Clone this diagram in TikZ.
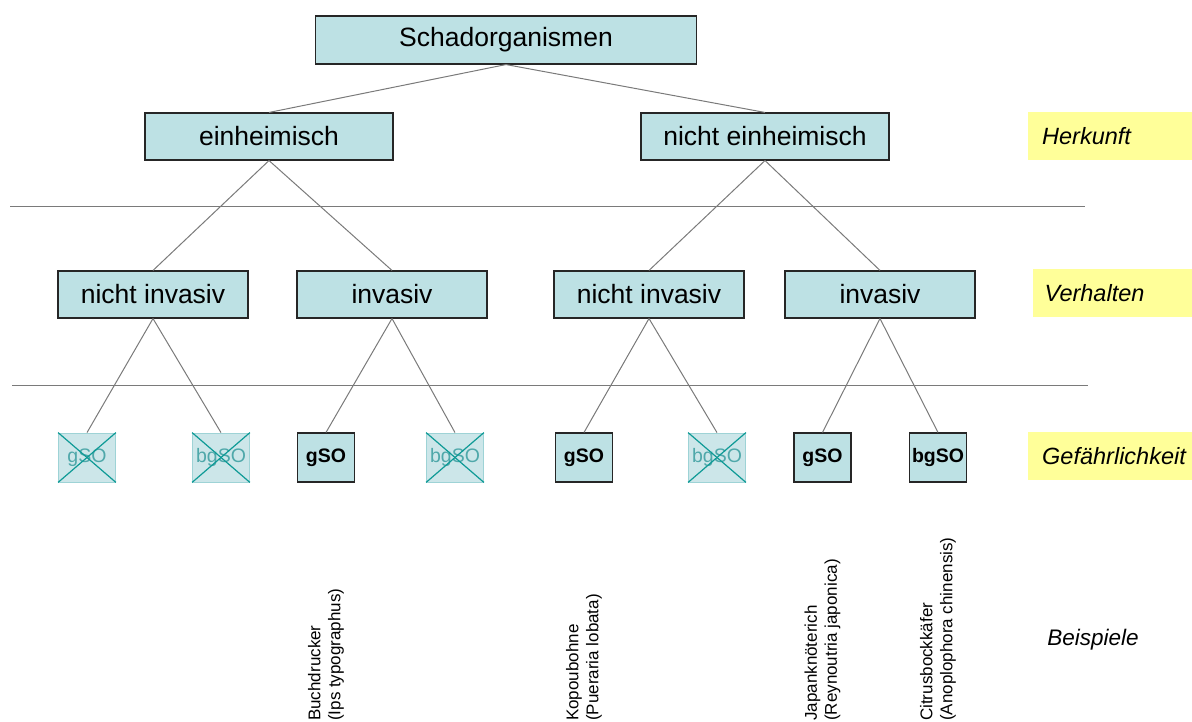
\documentclass[tikz,border=0pt]{standalone}
\usepackage{fontspec}
\setmainfont{Liberation Sans}
\usepackage{tikz}
\usetikzlibrary{calc}

\definecolor{boxfill}{HTML}{BDE1E4}
\definecolor{crossfill}{HTML}{CCE6E9}
\definecolor{crossedge}{HTML}{9ED3D6}
\definecolor{crossmark}{HTML}{0E9A96}
\definecolor{crosstext}{HTML}{4FA8AA}
\definecolor{linegray}{HTML}{7A7A7A}
\definecolor{tagyellow}{HTML}{FFFF99}

\tikzset{
  bigbox/.style={draw=black!85, line width=1.1pt, fill=boxfill, inner sep=0pt,
    minimum width=190pt, minimum height=47pt, font=\fontsize{26.5}{30}\selectfont},
  smallbox/.style={draw=black!85, line width=1.1pt, fill=boxfill, inner sep=0pt,
    minimum width=57pt, minimum height=49pt, font=\fontsize{19.5}{22}\selectfont\bfseries},
  crossbox/.style={draw=crossedge, line width=0.8pt, fill=crossfill, inner sep=0pt,
    minimum width=57pt, minimum height=49pt, text=crosstext, font=\fontsize{19.5}{22}\selectfont},
  crossline/.style={crossmark, line width=1.2pt},
  tag/.style={fill=tagyellow, inner sep=0pt, minimum height=48pt,
    font=\fontsize{23.5}{26}\selectfont\itshape},
  conn/.style={linegray, line width=1pt},
  level/.style={linegray, line width=1pt},
  example/.style={rotate=90, anchor=west, inner sep=0pt, align=left,
    font=\fontsize{17}{20}\selectfont}
}

\begin{document}
\begin{tikzpicture}[x=1pt, y=-1pt]
        \useasboundingbox (0,0) rectangle (1192,722);

        % Herkunft
        \node[bigbox, minimum width=381pt, minimum height=48pt] (schad) at (506,40) {Schadorganismen};
        \node[bigbox, minimum width=248pt] (einh) at (269,136.5) {einheimisch};
        \node[bigbox, minimum width=248pt] (neinh) at (765,136.5) {nicht einheimisch};

        \draw[conn] (schad.south) -- (einh.north);
        \draw[conn] (schad.south) -- (neinh.north);

        \coordinate (l1a) at (10,207);
        \coordinate (l1b) at (1085,207);
        \draw[level] (l1a) -- (l1b);

        % Verhalten
        \node[bigbox] (ni1) at (153,294.5) {nicht invasiv};
        \node[bigbox] (inv1) at (392,294.5) {invasiv};
        \node[bigbox] (ni2) at (649,294.5) {nicht invasiv};
        \node[bigbox] (inv2) at (880,294.5) {invasiv};

        \draw[conn] (einh.south) -- (ni1.north);
        \draw[conn] (einh.south) -- (inv1.north);
        \draw[conn] (neinh.south) -- (ni2.north);
        \draw[conn] (neinh.south) -- (inv2.north);

        \coordinate (l2a) at (12,385);
        \coordinate (l2b) at (1088,385);
        \draw[level] (l2a) -- (l2b);

        % Gefaehrlichkeit
        \node[crossbox] (s1) at (87,457.5) {gSO};
        \node[crossbox] (s2) at (221,457.5) {bgSO};
        \node[smallbox] (s3) at (326,457.5) {gSO};
        \node[crossbox] (s4) at (455,457.5) {bgSO};
        \node[smallbox] (s5) at (584,457.5) {gSO};
        \node[crossbox] (s6) at (717,457.5) {bgSO};
        \node[smallbox] (s7) at (822.5,457.5) {gSO};
        \node[smallbox] (s8) at (938,457.5) {bgSO};

        \foreach \s in {s1,s2,s4,s6} {
          \draw[crossline] (\s.north west) -- (\s.south east);
          \draw[crossline] (\s.south west) -- (\s.north east);
        }

        \draw[conn] (ni1.south) -- (s1.north);
        \draw[conn] (ni1.south) -- (s2.north);
        \draw[conn] (inv1.south) -- (s3.north);
        \draw[conn] (inv1.south) -- (s4.north);
        \draw[conn] (ni2.south) -- (s5.north);
        \draw[conn] (ni2.south) -- (s6.north);
        \draw[conn] (inv2.south) -- (s7.north);
        \draw[conn] (inv2.south) -- (s8.north);

        % Beispiele
        \node[example] (ex1) at (326,721) {Buchdrucker\\(Ips typographus)};
        \node[example] (ex2) at (584,721) {Kopoubohne\\(Pueraria lobata)};
        \node[example] (ex3) at (822.5,721) {Japanknöterich\\(Reynoutria japonica)};
        \node[example] (ex4) at (938,721) {Citrusbockkäfer\\(Anoplophora chinensis)};

        % Ebenen
        \node[tag, minimum width=164pt, anchor=west, text width=150pt, align=left] (herk) at (1028,136) {\hspace*{7pt}Herkunft};
        \node[tag, minimum width=159pt, anchor=west, text width=150pt, align=left] (verh) at (1033,293) {\hspace*{7pt}Verhalten};
        \node[tag, minimum width=164pt, anchor=west, text width=150pt, align=left] (gef) at (1028,456) {\hspace*{7pt}Gefährlichkeit};
        \node[font=\fontsize{22.5}{26}\selectfont\itshape] (beisp) at (1093,640) {Beispiele};

    \end{tikzpicture}
\end{document}
